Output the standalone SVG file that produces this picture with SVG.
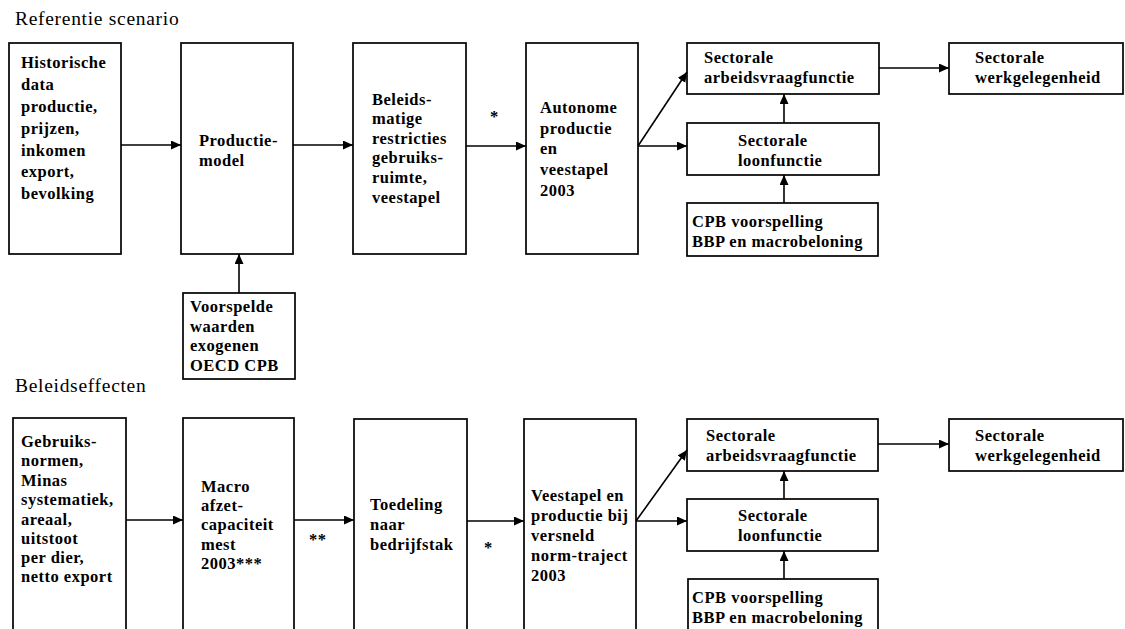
<svg xmlns="http://www.w3.org/2000/svg" width="1125" height="629" viewBox="0 0 1125 629">
<defs>
<style>
.box{fill:#fff;stroke:#000;stroke-width:1.7}
.t{font-family:"Liberation Serif","Times New Roman",serif;font-weight:bold;font-size:16.5px;letter-spacing:0.5px;fill:#000}
.h{font-family:"Liberation Serif","Times New Roman",serif;font-size:19.5px;letter-spacing:0.7px;fill:#000}
.c{stroke:#000;stroke-width:1.6;fill:none}
</style>
<marker id="ah" markerUnits="userSpaceOnUse" markerWidth="11" markerHeight="10" refX="10" refY="4.5" orient="auto">
<path d="M0,0 L10,4.5 L0,9 z" fill="#000"/>
</marker>
</defs>
<rect width="1125" height="629" fill="#fff"/>
<text class="h" x="15" y="25">Referentie scenario</text>
<text class="h" x="15" y="392">Beleidseffecten</text>

<g id="r1"><rect class="box" x="9" y="43" width="112" height="211"/>
<text class="t"><tspan x="21" y="68">Historische</tspan><tspan x="21" y="90">data</tspan><tspan x="21" y="112">productie,</tspan><tspan x="21" y="134">prijzen,</tspan><tspan x="21" y="156">inkomen</tspan><tspan x="21" y="177">export,</tspan><tspan x="21" y="199">bevolking</tspan></text></g>
<g id="r2"><rect class="box" x="181" y="43" width="112" height="211"/>
<text class="t"><tspan x="199" y="146">Productie-</tspan><tspan x="199" y="166">model</tspan></text></g>
<g id="r3"><rect class="box" x="353" y="43" width="113" height="211"/>
<text class="t"><tspan x="372" y="105">Beleids-</tspan><tspan x="372" y="124">matige</tspan><tspan x="372" y="144">restricties</tspan><tspan x="372" y="163">gebruiks-</tspan><tspan x="372" y="183">ruimte,</tspan><tspan x="372" y="203">veestapel</tspan></text></g>
<g id="r4"><rect class="box" x="526" y="43" width="112" height="211"/>
<text class="t"><tspan x="540" y="113">Autonome</tspan><tspan x="540" y="134">productie</tspan><tspan x="540" y="154">en</tspan><tspan x="540" y="175">veestapel</tspan><tspan x="540" y="196">2003</tspan></text></g>
<g id="r5"><rect class="box" x="687" y="43" width="192" height="51"/>
<text class="t"><tspan x="704" y="63">Sectorale</tspan><tspan x="704" y="83">arbeidsvraagfunctie</tspan></text></g>
<g id="r6"><rect class="box" x="949" y="43" width="174" height="51"/>
<text class="t"><tspan x="975" y="63">Sectorale</tspan><tspan x="975" y="83">werkgelegenheid</tspan></text></g>
<g id="r7"><rect class="box" x="687" y="123" width="192" height="52"/>
<text class="t"><tspan x="738" y="146">Sectorale</tspan><tspan x="738" y="166">loonfunctie</tspan></text></g>
<g id="r8"><rect class="box" x="687" y="203" width="191" height="53"/>
<text class="t"><tspan x="692" y="227">CPB voorspelling</tspan><tspan x="692" y="247">BBP en macrobeloning</tspan></text></g>
<g id="r9"><rect class="box" x="183" y="293" width="112" height="86"/>
<text class="t"><tspan x="190" y="312">Voorspelde</tspan><tspan x="190" y="332">waarden</tspan><tspan x="190" y="351">exogenen</tspan><tspan x="190" y="371">OECD CPB</tspan></text></g>

<g id="b1"><rect class="box" x="13" y="418" width="113" height="225"/>
<text class="t"><tspan x="21" y="447">Gebruiks-</tspan><tspan x="21" y="466">normen,</tspan><tspan x="21" y="486">Minas</tspan><tspan x="21" y="505">systematiek,</tspan><tspan x="21" y="525">areaal,</tspan><tspan x="21" y="544">uitstoot</tspan><tspan x="21" y="563">per dier,</tspan><tspan x="21" y="582">netto export</tspan></text></g>
<g id="b2"><rect class="box" x="183" y="418" width="111" height="225"/>
<text class="t"><tspan x="201" y="492">Macro</tspan><tspan x="201" y="511">afzet-</tspan><tspan x="201" y="530">capaciteit</tspan><tspan x="201" y="550">mest</tspan><tspan x="201" y="569">2003***</tspan></text></g>
<g id="b3"><rect class="box" x="354" y="419" width="113" height="224"/>
<text class="t"><tspan x="370" y="510">Toedeling</tspan><tspan x="370" y="530">naar</tspan><tspan x="370" y="550">bedrijfstak</tspan></text></g>
<g id="b4"><rect class="box" x="524" y="419" width="112" height="224"/>
<text class="t"><tspan x="531" y="501">Veestapel en</tspan><tspan x="531" y="521">productie bij</tspan><tspan x="531" y="541">versneld</tspan><tspan x="531" y="561">norm-traject</tspan><tspan x="531" y="581">2003</tspan></text></g>
<g id="b5"><rect class="box" x="687" y="419" width="191" height="52"/>
<text class="t"><tspan x="706" y="441">Sectorale</tspan><tspan x="706" y="461">arbeidsvraagfunctie</tspan></text></g>
<g id="b6"><rect class="box" x="949" y="419" width="174" height="52"/>
<text class="t"><tspan x="975" y="441">Sectorale</tspan><tspan x="975" y="461">werkgelegenheid</tspan></text></g>
<g id="b7"><rect class="box" x="687" y="499" width="191" height="52"/>
<text class="t"><tspan x="738" y="521">Sectorale</tspan><tspan x="738" y="541">loonfunctie</tspan></text></g>
<g id="b8"><rect class="box" x="688" y="579" width="190" height="64"/>
<text class="t"><tspan x="692" y="603">CPB voorspelling</tspan><tspan x="692" y="623">BBP en macrobeloning</tspan></text></g>

<g id="connectors">
<line class="c" x1="121" y1="145" x2="181" y2="145" marker-end="url(#ah)"/>
<line class="c" x1="293" y1="145" x2="353" y2="145" marker-end="url(#ah)"/>
<line class="c" x1="466" y1="146" x2="526" y2="146" marker-end="url(#ah)"/>
<line class="c" x1="638" y1="146" x2="687" y2="146" marker-end="url(#ah)"/>
<line class="c" x1="638" y1="146" x2="687" y2="72" marker-end="url(#ah)"/>
<line class="c" x1="879" y1="68" x2="949" y2="68" marker-end="url(#ah)"/>
<line class="c" x1="784" y1="123" x2="784" y2="94" marker-end="url(#ah)"/>
<line class="c" x1="784" y1="203" x2="784" y2="175" marker-end="url(#ah)"/>
<line class="c" x1="239" y1="293" x2="239" y2="254" marker-end="url(#ah)"/>
<text class="t" x="490" y="122">*</text>
<line class="c" x1="126" y1="520" x2="183" y2="520" marker-end="url(#ah)"/>
<line class="c" x1="294" y1="520" x2="354" y2="520" marker-end="url(#ah)"/>
<line class="c" x1="467" y1="521" x2="524" y2="521" marker-end="url(#ah)"/>
<line class="c" x1="636" y1="521" x2="687" y2="521" marker-end="url(#ah)"/>
<line class="c" x1="636" y1="521" x2="687" y2="450" marker-end="url(#ah)"/>
<line class="c" x1="878" y1="444" x2="949" y2="444" marker-end="url(#ah)"/>
<line class="c" x1="784" y1="499" x2="784" y2="471" marker-end="url(#ah)"/>
<line class="c" x1="784" y1="579" x2="784" y2="551" marker-end="url(#ah)"/>
<text class="t" x="309" y="545">**</text>
<text class="t" x="484" y="553">*</text>
</g>
</svg>
